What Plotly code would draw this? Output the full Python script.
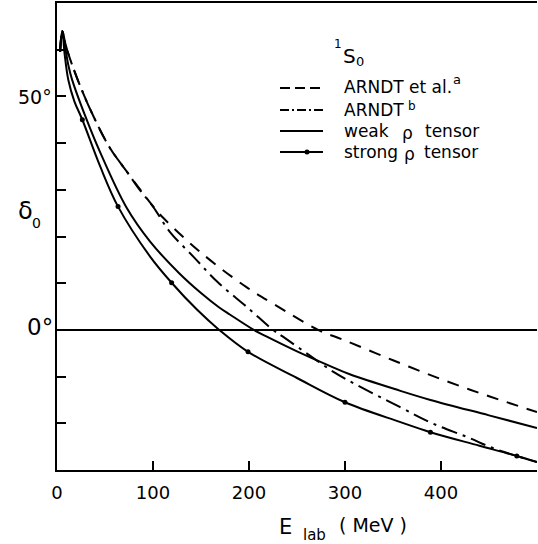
import plotly.graph_objects as go

# ---------------- data ----------------
dashed_E = [3.2, 5.5, 8.5, 12, 21.5, 36, 55, 72.4, 100, 110.6, 149, 197, 227, 272, 298, 350, 402, 450, 500]
dashed_d = [59.5, 64, 61.5, 59, 53.6, 46.6, 39.0, 34.0, 26.5, 24, 16.7, 9.2, 5.4, 0, -2.1, -6.5, -10.7, -14.2, -17.6]

dashdot_E = [3.2, 5.5, 8.5, 12, 21.5, 36, 55, 72.4, 85, 100, 117.5, 142, 167, 199, 225, 235, 262, 288, 305, 357, 391, 428, 454, 500]
dashdot_d = [59.5, 64, 61.5, 59, 53.6, 46.6, 39.0, 34.0, 30.3, 26.4, 21, 15.7, 10.3, 4.7, 0, -1.4, -5.3, -9, -11, -16.5, -20, -23, -25.3, -28.3]

weak_E = [3.2, 5.5, 8.5, 12, 15.7, 30, 45, 72.4, 97, 127, 150, 169, 180, 205, 217, 250, 284, 305, 357, 389, 450, 500]
weak_d = [59.5, 64, 60.5, 56.5, 53.6, 45.5, 38, 26.2, 18.9, 12.2, 7.9, 4.8, 3.3, 0, -1.3, -4.6, -7.7, -9.5, -13.0, -15.0, -18.3, -21]

strong_E = [3.2, 5.5, 8, 11.8, 18, 26.4, 45, 63.6, 97, 119.4, 146, 169, 199, 250, 300, 357, 389, 440, 479, 500]
strong_d = [59.5, 64, 59, 53.5, 49, 45, 35, 26.4, 15.7, 10.1, 4.3, 0, -4.7, -10.3, -15.5, -19.7, -21.9, -24.8, -27, -28.3]

strong_dot_E = [26.4, 63.6, 119.4, 199, 300, 389, 479]
strong_dot_d = [45, 26.4, 10.1, -4.7, -15.5, -21.9, -27]

x_tick_vals = [0, 100, 200, 300, 400]
x_tick_text = ["0", "100", "200", "300", "400"]
y_tick_vals = [-20, -10, 0, 10, 20, 30, 40, 50, 60]
y_label_text = ["50°", "0°"]

# ---------------- layout geometry ----------------
W, H = 538, 544
L, R, T, B = 57, 1, 3, 74
PW, PH = W - L - R, H - T - B

def px(x):
    return (x - L) / PW

def py(y):
    return (H - B - y) / PH

FONT = "DejaVu Sans"
BLACK = "black"
SPL = dict(shape="spline", smoothing=1.0)

fig = go.Figure()
fig.add_trace(go.Scatter(x=dashed_E, y=dashed_d, mode="lines", line=dict(color=BLACK, width=2, dash="12px,9px", **SPL), showlegend=False))
fig.add_trace(go.Scatter(x=dashdot_E, y=dashdot_d, mode="lines", line=dict(color=BLACK, width=2, dash="16px,6px,3px,6px", **SPL), showlegend=False))
fig.add_trace(go.Scatter(x=weak_E, y=weak_d, mode="lines", line=dict(color=BLACK, width=2, **SPL), showlegend=False))
fig.add_trace(go.Scatter(x=strong_E, y=strong_d, mode="lines", line=dict(color=BLACK, width=2, **SPL), showlegend=False))
fig.add_trace(go.Scatter(x=strong_dot_E, y=strong_dot_d, mode="markers", marker=dict(color=BLACK, size=5), showlegend=False))

# ---------------- custom legend ----------------
shapes = []
rows = [
    (88, "10px,5px"),
    (110, "9px,3px,2px,3px"),
    (131, "solid"),
    (152, "solid"),
]
for yy, dash in rows:
    shapes.append(dict(type="line", xref="paper", yref="paper", x0=px(280), x1=px(323), y0=py(yy), y1=py(yy),
                       line=dict(color=BLACK, width=2, dash=dash)))
shapes.append(dict(type="circle", xref="paper", yref="paper", x0=px(304.5), x1=px(309.5), y0=py(149.5), y1=py(154.5),
                   fillcolor=BLACK, line=dict(color=BLACK, width=0)))

ann = []
def text(x, y, s, size=17, xanchor="left", yanchor="middle"):
    ann.append(dict(x=px(x), y=py(y), xref="paper", yref="paper", text=s, showarrow=False,
                    xanchor=xanchor, yanchor=yanchor, font=dict(family=FONT, size=size, color=BLACK)))

# 1S0 heading
text(332, 44, "1", size=12)
text(341, 56, "S", size=20)
text(354, 61, "0", size=13)

text(342, 87, "ARNDT et al.")
text(451, 79, "a", size=13)
text(342, 110, "ARNDT")
text(406, 106, "b", size=12)
text(342, 131, "weak")
text(407, 133, "ρ", xanchor="center")
text(423, 131, "tensor")
text(342, 152, "strong")
text(409, 154, "ρ", xanchor="center")
text(422, 152, "tensor")

# y tick labels
text(54, 97, y_label_text[0], size=19, xanchor="right")
text(55, 327, y_label_text[1], size=23, xanchor="right")

# axis titles
text(277, 527, "E", size=21)
text(301, 535, "lab", size=15)
text(337, 525, "( MeV )", size=19)
text(25, 211, "δ", size=24, xanchor="center")
text(36, 223, "0", size=14, xanchor="center")

fig.update_layout(
    width=W, height=H,
    margin=dict(l=L, r=R, t=T, b=B, pad=0),
    paper_bgcolor="white", plot_bgcolor="white",
    font=dict(family=FONT, size=17, color=BLACK),
    shapes=shapes, annotations=ann,
    showlegend=False,
)
fig.update_xaxes(range=[0, 500], showgrid=False, zeroline=False, showline=True, linecolor=BLACK, linewidth=2,
                 mirror=True, ticks="inside", ticklen=9, tickwidth=2, tickcolor=BLACK,
                 tickvals=x_tick_vals, ticktext=x_tick_text, tickfont=dict(family=FONT, size=18), ticklabelstandoff=5)
fig.update_yaxes(range=[-30, 70], showgrid=False, zeroline=True, zerolinecolor=BLACK, zerolinewidth=2,
                 showline=True, linecolor=BLACK, linewidth=2,
                 ticks="inside", ticklen=9, tickwidth=2, tickcolor=BLACK,
                 tickvals=y_tick_vals, showticklabels=False)

fig.write_html("out.html")
